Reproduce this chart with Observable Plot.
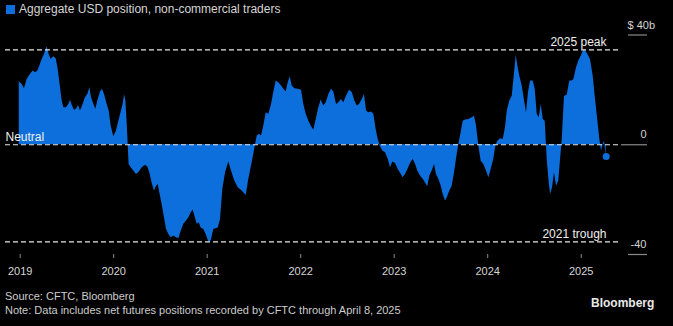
<!DOCTYPE html>
<html><head><meta charset="utf-8">
<script src="https://cdn.jsdelivr.net/npm/d3@7"></script>
<script src="https://cdn.jsdelivr.net/npm/@observablehq/plot@0.6"></script>
<style>
html,body{margin:0;padding:0;background:#000;width:673px;height:326px;overflow:hidden;font-family:"Liberation Sans",Arial,sans-serif;}
#wrap{position:relative;width:673px;height:326px;}
#chart{position:absolute;left:0;top:0;}
#legend{position:absolute;z-index:2;left:6px;top:2px;color:#d6d6d6;font-size:12px;line-height:14px;display:flex;align-items:center;white-space:nowrap;}
#legend .sw{width:9px;height:9px;background:#0d6fdc;margin-right:4px;}
#source{position:absolute;left:5px;top:289px;color:#cdcdcd;font-size:11px;line-height:14px;white-space:nowrap;}
#brand{position:absolute;left:591px;top:296px;color:#e8e8e8;font-size:12px;font-weight:bold;}
</style></head>
<body><div id="wrap">
<div id="chart"></div>
<div id="legend"><div class="sw"></div><span>Aggregate USD position, non-commercial traders</span></div>
<div id="source">Source: CFTC, Bloomberg<br>Note: Data includes net futures positions recorded by CFTC through April 8, 2025</div>
<div id="brand">Bloomberg</div>
</div>
<script>
// Weekly report dates as decimal years
const reportYear = [
  2018.990, 2019.021, 2019.046, 2019.075, 2019.103, 2019.139, 2019.164, 2019.189, 2019.210, 2019.235,
  2019.260, 2019.288, 2019.310, 2019.331, 2019.360, 2019.385, 2019.406, 2019.431, 2019.449, 2019.467,
  2019.495, 2019.520, 2019.538, 2019.559, 2019.581, 2019.602, 2019.624, 2019.645, 2019.673, 2019.698,
  2019.723, 2019.745, 2019.763, 2019.788, 2019.809, 2019.830, 2019.859, 2019.880, 2019.902, 2019.930,
  2019.952, 2019.973, 2020.001, 2020.030, 2020.055, 2020.083, 2020.101, 2020.116, 2020.130, 2020.144,
  2020.155, 2020.165, 2020.187, 2020.215, 2020.244, 2020.272, 2020.305, 2020.340, 2020.365, 2020.386,
  2020.411, 2020.436, 2020.458, 2020.476, 2020.493, 2020.518, 2020.543, 2020.565, 2020.590, 2020.615,
  2020.643, 2020.672, 2020.697, 2020.722, 2020.750, 2020.779, 2020.804, 2020.829, 2020.850, 2020.868,
  2020.893, 2020.914, 2020.936, 2020.964, 2020.989, 2021.017, 2021.035, 2021.046, 2021.071, 2021.118,
  2021.142, 2021.167, 2021.196, 2021.231, 2021.260, 2021.295, 2021.332, 2021.374, 2021.417, 2021.445,
  2021.481, 2021.517, 2021.535, 2021.559, 2021.581, 2021.605, 2021.631, 2021.659, 2021.688, 2021.712,
  2021.738, 2021.766, 2021.795, 2021.819, 2021.845, 2021.866, 2021.888, 2021.909, 2021.937, 2021.973,
  2022.009, 2022.033, 2022.059, 2022.087, 2022.116, 2022.140, 2022.166, 2022.194, 2022.219, 2022.247,
  2022.273, 2022.301, 2022.329, 2022.354, 2022.383, 2022.408, 2022.436, 2022.461, 2022.487, 2022.522,
  2022.551, 2022.579, 2022.604, 2022.629, 2022.658, 2022.682, 2022.704, 2022.728, 2022.757, 2022.782,
  2022.807, 2022.829, 2022.850, 2022.878, 2022.907, 2022.936, 2022.960, 2022.985, 2023.014, 2023.043,
  2023.071, 2023.096, 2023.121, 2023.146, 2023.174, 2023.203, 2023.228, 2023.252, 2023.281, 2023.310,
  2023.335, 2023.359, 2023.381, 2023.406, 2023.431, 2023.452, 2023.477, 2023.503, 2023.524, 2023.549,
  2023.567, 2023.595, 2023.620, 2023.645, 2023.666, 2023.691, 2023.709, 2023.738, 2023.763, 2023.798,
  2023.834, 2023.859, 2023.880, 2023.905, 2023.930, 2023.958, 2023.987, 2024.012, 2024.037, 2024.065,
  2024.087, 2024.108, 2024.137, 2024.166, 2024.190, 2024.209, 2024.236, 2024.262, 2024.287, 2024.305,
  2024.322, 2024.343, 2024.369, 2024.394, 2024.415, 2024.436, 2024.458, 2024.487, 2024.508, 2024.529,
  2024.551, 2024.572, 2024.594, 2024.615, 2024.636, 2024.658, 2024.672, 2024.693, 2024.714, 2024.736,
  2024.760, 2024.779, 2024.797, 2024.821, 2024.850, 2024.878, 2024.904, 2024.921, 2024.950, 2024.974,
  2025.000, 2025.028, 2025.049, 2025.071, 2025.099, 2025.128, 2025.153, 2025.178, 2025.199, 2025.217,
  2025.235, 2025.249, 2025.267
];
// Aggregate USD position, $ billions
const usdPosition = [
  23.0, 22.0, 20.4, 23.8, 25.3, 26.9, 26.2, 26.9, 28.7, 31.1,
  32.9, 35.7, 32.9, 31.1, 32.1, 31.3, 27.5, 20.8, 15.9, 13.5,
  13.5, 14.7, 16.2, 14.1, 12.6, 12.9, 14.3, 12.3, 14.7, 17.1,
  18.3, 20.8, 17.1, 14.7, 12.9, 15.9, 19.2, 20.2, 18.3, 14.7,
  12.3, 6.8, 2.9, 5.0, 8.6, 12.3, 14.7, 18.3, 15.9, 8.0,
  0.0, -7.2, -8.4, -9.6, -10.8, -10.0, -8.4, -7.5, -8.1, -10.2,
  -13.9, -16.9, -15.1, -14.5, -17.5, -21.7, -26.6, -30.9, -32.7, -33.9,
  -33.3, -33.9, -34.3, -31.5, -29.0, -27.8, -26.6, -24.8, -23.8, -26.0,
  -29.0, -28.4, -30.3, -30.9, -32.7, -35.4, -35.4, -34.5, -30.9, -30.3,
  -27.2, -16.3, -10.2, -6.3, -9.6, -13.2, -15.7, -16.9, -18.5, -12.6,
  -6.6, 0.0, 3.2, 3.8, 3.2, 6.8, 11.7, 11.1, 14.7, 19.0,
  23.2, 22.6, 21.4, 20.2, 19.2, 22.6, 24.8, 21.4, 20.4, 20.2,
  19.9, 14.7, 11.1, 8.6, 6.6, 5.3, 9.2, 13.5, 16.3, 14.1,
  15.3, 18.3, 20.2, 19.2, 14.7, 15.3, 16.5, 15.3, 17.5, 19.9,
  19.0, 15.9, 14.1, 14.7, 16.5, 18.3, 12.3, 11.7, 11.9, 11.1,
  5.6, 1.9, -0.5, -2.3, -2.9, -5.3, -8.4, -6.3, -6.8, -9.0,
  -10.6, -12.0, -10.8, -9.0, -6.8, -5.3, -7.2, -9.6, -11.4, -12.6,
  -13.9, -15.3, -11.4, -9.6, -7.2, -10.8, -12.6, -15.1, -18.1, -20.5,
  -19.3, -16.9, -15.1, -10.2, -5.3, 0.1, 3.2, 8.6, 9.0, 9.2,
  9.8, 10.4, 6.8, -0.5, -6.0, -7.2, -9.6, -12.0, -9.0, -5.3,
  -0.5, 1.3, 2.2, 1.9, 6.2, 12.3, 15.9, 17.7, 26.2, 32.6,
  28.7, 25.0, 21.4, 15.9, 11.7, 19.0, 23.2, 23.2, 20.2, 11.1,
  9.8, 14.7, 9.2, 8.6, -5.3, -13.9, -18.1, -15.7, -10.2, -15.1,
  -13.2, -5.3, 1.9, 17.7, 18.0, 23.2, 23.2, 23.8, 28.1, 30.5,
  32.3, 34.6, 34.1, 32.9, 31.1, 25.0, 16.5, 8.6, 1.9, -2.3,
  0.1, 1.3, -4.3
];
// Reference lines
const refValues = [34.6, 0, -35.4];
const refLabels = ["2025 peak", "Neutral", "2021 trough"];
const refSide = ["right", "left", "right"];
// Axis ticks
const yearTicks = [2019, 2020, 2021, 2022, 2023, 2024, 2025];
const yTicks = [40, 0, -40];
const yTickLabels = ["$ 40b", "0", "-40"];

const blue = "#0d6fdc";
const data = reportYear.map((t, i) => ({t, v: usdPosition[i]}));
const refs = refValues.map((v, i) => ({v, label: refLabels[i], side: refSide[i]}));
const last = [data[data.length - 1]];
const fmtY = d => yTickLabels[yTicks.indexOf(d)];

const chart = Plot.plot({
  width: 673,
  height: 284,
  marginTop: 34.5,
  marginBottom: 30,
  marginLeft: 5,
  marginRight: 53,
  style: {background: "#000", color: "#ddd", fontFamily: "'Liberation Sans', Arial, sans-serif", fontSize: "11px"},
  x: {type: "linear", domain: [2018.843, 2025.42], axis: null},
  y: {domain: [-40, 40], axis: null},
  marks: [
    Plot.areaY(data, {x: "t", y: "v", fill: blue}),
    Plot.ruleY(refs, {y: "v", stroke: "#e6e6e6", strokeWidth: 1.2, strokeDasharray: "5,3"}),
    Plot.text(refs.filter(d => d.side === "right"), {y: "v", text: "label", frameAnchor: "right", textAnchor: "end", dx: -14, dy: -8, fill: "#f0f0f0", fontSize: 12}),
    Plot.text(refs.filter(d => d.side === "left"), {y: "v", text: "label", frameAnchor: "left", textAnchor: "start", dy: -8, fill: "#f0f0f0", fontSize: 12}),
    Plot.dot(last, {x: "t", y: "v", r: 3.5, fill: blue, stroke: "none"}),
    Plot.axisX(yearTicks, {anchor: "bottom", tickSize: 4, tickPadding: 9, tickFormat: d => String(d), stroke: "#8a8a8a", fill: "#d6d6d6", fontSize: 11, label: null}),
    Plot.axisY([0], {anchor: "right", tickSize: 26, stroke: "#8a8a8a", strokeWidth: 1.2, fill: "none", label: null}),
    Plot.axisY([40, -40], {anchor: "right", tickSize: 19, dx: 7, stroke: "#8a8a8a", strokeWidth: 1.2, fill: "none", label: null}),
    Plot.axisY([0, -40], {anchor: "right", tickSize: 0, tickPadding: 26, textAnchor: "end", dy: -10, tickFormat: fmtY, stroke: "none", fill: "#d6d6d6", fontSize: 11, label: null}),
    Plot.axisY([40], {anchor: "right", tickSize: 0, tickPadding: 7, textAnchor: "start", dy: -10, tickFormat: fmtY, stroke: "none", fill: "#d6d6d6", fontSize: 11, label: null})
  ]
});
document.getElementById("chart").appendChild(chart);
</script>
</body></html>
